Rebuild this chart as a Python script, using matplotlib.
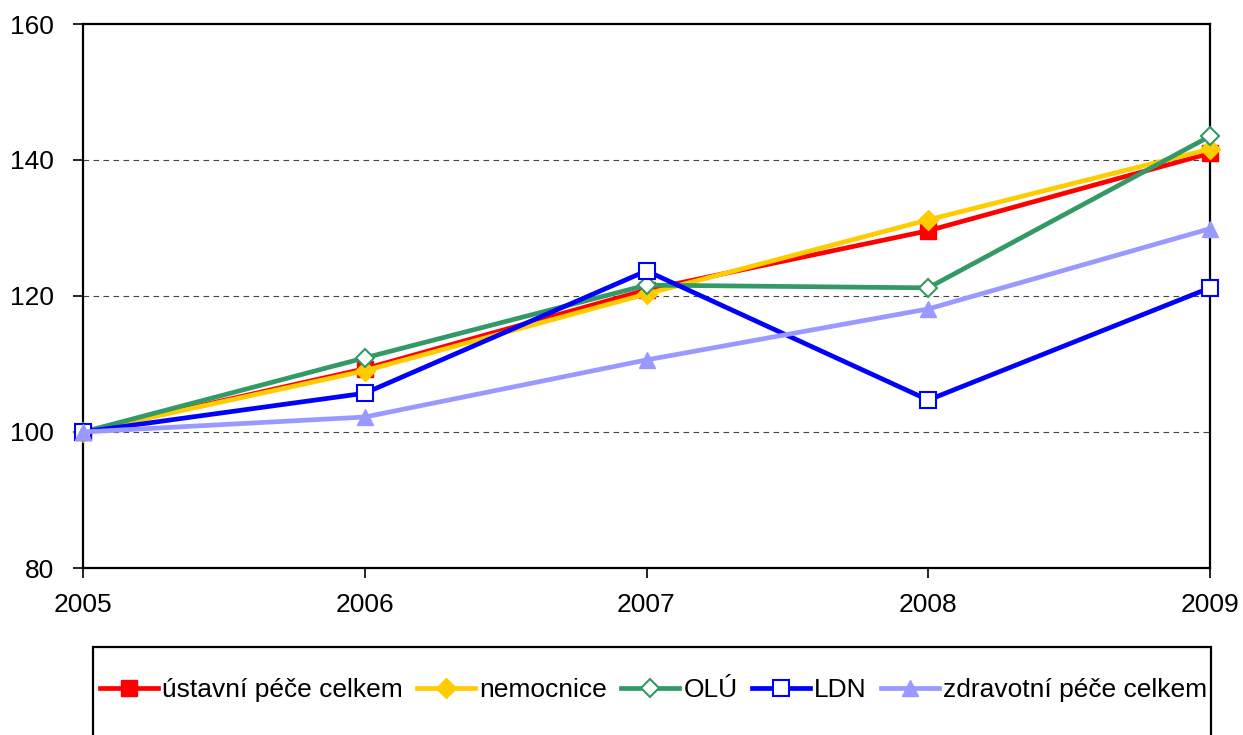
import matplotlib
matplotlib.use("Agg")
import matplotlib.pyplot as plt
from matplotlib.patches import Rectangle

years = ["2005", "2006", "2007", "2008", "2009"]
ustavni = [100, 109.3, 120.9, 129.6, 141.0]
nemocnice = [100, 109.0, 120.3, 131.2, 141.6]
olu = [100, 110.9, 121.6, 121.2, 143.5]
ldn = [100, 105.7, 123.7, 104.7, 121.2]
zdravotni = [100, 102.2, 110.6, 118.1, 129.9]
y_ticks = [80, 100, 120, 140, 160]

plt.rcParams['font.family'] = ['Liberation Sans', 'DejaVu Sans']

W, H = 1243, 735
fig = plt.figure(figsize=(W / 100, H / 100), dpi=100)
ax = fig.add_axes([83 / W, 1 - 568 / H, (1210 - 83) / W, (568 - 24) / H])

x = list(range(len(years)))
lw = 3.4
ax.plot(x, ustavni, color='#FF0000', lw=lw, marker='s', ms=11, mfc='#FF0000', mec='#FF0000', label='ústavní péče celkem', zorder=3)
ax.plot(x, nemocnice, color='#FFCC00', lw=lw, marker='D', ms=10, mfc='#FFCC00', mec='#FFCC00', label='nemocnice', zorder=4)
ax.plot(x, olu, color='#339966', lw=lw, marker='D', ms=9, mfc='white', mec='#339966', mew=1.5, label='OLÚ', zorder=5)
ax.plot(x, ldn, color='#0000FF', lw=lw, marker='s', ms=11, mfc='white', mec='#0000FF', mew=1.5, label='LDN', zorder=6)
ax.plot(x, zdravotni, color='#9999FF', lw=lw, marker='^', ms=12, mfc='#9999FF', mec='#9999FF', label='zdravotní péče celkem', zorder=7)

ax.set_xlim(0, len(years) - 1)
ax.set_ylim(80, 160)
ax.set_yticks(y_ticks)
ax.set_xticks(x)
ax.set_xticklabels(years)
for v in y_ticks[1:-1]:
    ax.axhline(v, color='#444444', lw=0.8, ls=(0, (5, 4)), zorder=1)
for s in ax.spines.values():
    s.set_linewidth(1.6)
    s.set_color('black')
ax.tick_params(axis='both', labelsize=19, direction='out', length=7, width=1.2, colors='black')
ax.tick_params(axis='x', pad=11)
ax.tick_params(axis='y', pad=14)
for line in ax.get_lines():
    line.set_clip_on(False)

# legend box
rect = Rectangle((93 / W, -0.05), (1211 - 93) / W, 1 - 647 / H + 0.05, transform=fig.transFigure,
                 fill=False, edgecolor='black', lw=1.6)
fig.add_artist(rect)

handles, labels = ax.get_legend_handles_labels()
leg = fig.legend(handles, labels, loc='center', bbox_to_anchor=((100 + 1207) / 2 / W, 1 - 690 / H),
                 ncol=5, frameon=False, fontsize=19, handlelength=2.2, handletextpad=0.15,
                 columnspacing=0.55, borderpad=0)

fig.savefig('out.png', dpi=100)
